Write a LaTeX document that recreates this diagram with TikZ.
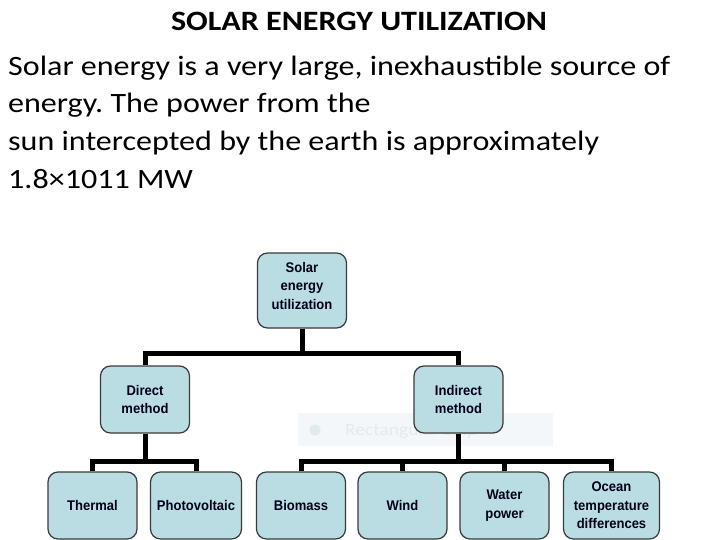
\documentclass[tikz,border=0pt]{standalone}
\usepackage{fontspec}
\setmainfont{Carlito}[FakeStretch=1.145]
\newfontfamily\boxfont{Liberation Sans}[FakeStretch=0.93]
\definecolor{boxblue}{HTML}{B9DDE3}
\definecolor{boxline}{HTML}{3A3A3A}
\definecolor{snipfill}{HTML}{F3F7F9}
\definecolor{sniptext}{HTML}{E3EAEE}
\frenchspacing
\tikzset{
  sbox/.style={draw=boxline,line width=1.2pt,fill=boxblue,rounded corners=10pt,
    minimum width=89pt,minimum height=67pt,align=center,inner sep=1pt,
    font=\boxfont\bfseries\fontsize{14}{18.5}\selectfont,text=black!90!blue},
  link/.style={line width=5pt,line join=miter},
  para/.style={font=\fontsize{28}{38}\selectfont,inner sep=0pt,anchor=base west}
}
\begin{document}
\begin{tikzpicture}[x=1pt,y=-1pt]
  \useasboundingbox (0,0) rectangle (720,540);
  % heading and text
  \node[font=\bfseries\fontsize{28}{38}\selectfont,inner sep=0pt,anchor=base] (title) at (359,31) {SOLAR ENERGY UTILIZATION};
  \node[para] (l1) at (8,76) {Solar energy is a very large, inexhaustible source of};
  \node[para] (l2) at (8,113) {energy. The power from the};
  \node[para] (l3) at (8,151) {sun intercepted by the earth is approximately};
  \node[para] (l4) at (8,189) {1.8×1011 MW};
  % faint snip overlay
  \fill[snipfill] (298,413) rectangle (553,446);
  \node[circle,fill=sniptext,inner sep=4pt] (snipicon) at (315,430) {};
  \node[font=\fontsize{17}{20}\selectfont,text=sniptext,anchor=west,inner sep=0pt] (sniplabel) at (345,431) {Rectangular Snip};
  % tree
  \node[sbox,minimum height=75pt,text depth=10pt] (solar) at (302,290.5) {Solar\\energy\\utilization};
  \node[sbox] (direct) at (145,399.5) {Direct\\method};
  \node[sbox] (indirect) at (458.5,399.5) {Indirect\\method};
  \node[sbox] (thermal) at (92.5,505.5) {Thermal};
  \node[sbox,minimum width=91pt] (photo) at (196,505.5) {Photovoltaic};
  \node[sbox] (biomass) at (301,505.5) {Biomass};
  \node[sbox] (wind) at (402.5,505.5) {Wind};
  \node[sbox] (water) at (504.5,505.5) {Water\\power};
  \node[sbox,minimum width=96pt] (ocean) at (611.5,505.5) {Ocean\\temperature\\differences};
  \draw[link] (solar.south) -- ++(0,24.5) -| (direct.north);
  \draw[link] (solar.south) -- ++(0,24.5) -| (indirect.north);
  \foreach \k in {thermal,photo}
    \draw[link] (direct.south) -- ++(0,28) -| (\k.north);
  \foreach \k in {biomass,wind,water,ocean}
    \draw[link] (indirect.south) -- ++(0,28) -| (\k.north);
\end{tikzpicture}
\end{document}
